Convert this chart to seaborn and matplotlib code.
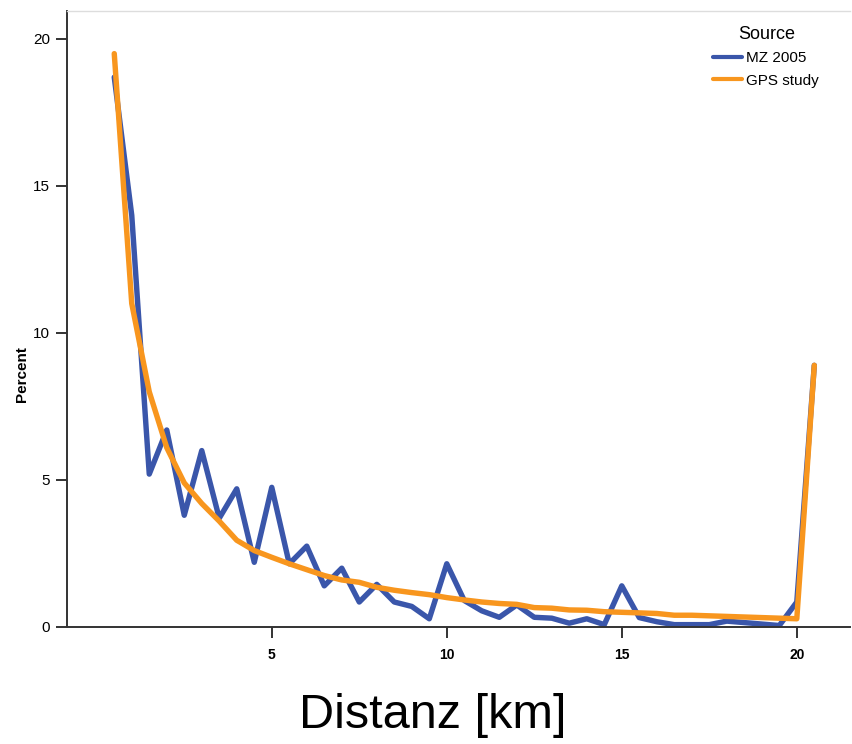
import numpy as np
import pandas as pd
import matplotlib
matplotlib.use("Agg")
import matplotlib.pyplot as plt
import seaborn as sns

sns.set_theme(style='ticks')
plt.rcParams['font.family'] = ['Liberation Sans', 'DejaVu Sans']
plt.rcParams['text.color'] = 'black'
plt.rcParams['axes.labelcolor'] = 'black'
plt.rcParams['xtick.labelcolor'] = 'black'
plt.rcParams['ytick.labelcolor'] = 'black'

# ---- data ----
distance_km = [0.5, 1.0, 1.5, 2.0, 2.5, 3.0, 3.5, 4.0, 4.5, 5.0,
               5.5, 6.0, 6.5, 7.0, 7.5, 8.0, 8.5, 9.0, 9.5, 10.0,
               10.5, 11.0, 11.5, 12.0, 12.5, 13.0, 13.5, 14.0, 14.5, 15.0,
               15.5, 16.0, 16.5, 17.0, 17.5, 18.0, 18.5, 19.0, 19.5, 20.0,
               20.5]

mz_2005 = [18.7, 14.0, 5.2, 6.7, 3.8, 6.0, 3.7, 4.7, 2.2, 4.75,
           2.15, 2.75, 1.4, 2.0, 0.85, 1.45, 0.85, 0.7, 0.28, 2.15,
           0.9, 0.55, 0.33, 0.75, 0.33, 0.3, 0.13, 0.28, 0.08, 1.4,
           0.32, 0.18, 0.08, 0.08, 0.08, 0.2, 0.15, 0.1, 0.05, 0.85,
           8.9]

gps_study = [19.5, 11.0, 8.0, 6.1, 4.9, 4.2, 3.6, 2.95, 2.6, 2.37,
             2.15, 1.95, 1.75, 1.6, 1.52, 1.35, 1.25, 1.17, 1.1, 1.0,
             0.92, 0.85, 0.8, 0.77, 0.66, 0.64, 0.58, 0.57, 0.52, 0.5,
             0.48, 0.46, 0.4, 0.4, 0.38, 0.36, 0.34, 0.32, 0.3, 0.28,
             8.9]

sources = ['MZ 2005', 'GPS study']
colors = ['#3a56aa', '#f8961e']

df = pd.DataFrame({
    'Distanz': distance_km * 2,
    'Percent': mz_2005 + gps_study,
    'Source': [sources[0]] * len(distance_km) + [sources[1]] * len(distance_km),
})

fig = plt.figure(figsize=(8.52, 7.44), dpi=100)
ax = fig.add_axes([67 / 852, 1 - 627 / 744, 783 / 852, 616 / 744])

sns.lineplot(data=df, x='Distanz', y='Percent', hue='Source',
             palette=dict(zip(sources, colors)), linewidth=3.9, ax=ax)

ax.set_xlim(-0.85, 21.52)
ax.set_ylim(0, 20.95)
ax.set_xticks([5, 10, 15, 20])
ax.set_yticks([0, 5, 10, 15, 20])

for side in ['left', 'bottom']:
    ax.spines[side].set_color('#333333')
    ax.spines[side].set_linewidth(1.4)
ax.spines['right'].set_visible(False)
ax.spines['top'].set_visible(True)
ax.spines['top'].set_color('#dddddd')
ax.spines['top'].set_linewidth(1.0)

ax.tick_params(axis='x', length=8, width=1.4, color='#333333', pad=7,
               labelsize=10)
ax.tick_params(axis='y', length=8, width=1.4, color='#333333', pad=4,
               labelsize=11)
for lab in ax.get_xticklabels():
    lab.set_fontweight('bold')

ax.set_ylabel('Percent', fontsize=11, fontweight='bold')
ax.yaxis.set_label_coords(-0.049, 0.41)
ax.set_xlabel('Distanz [km]', fontsize=35, va='center')
ax.xaxis.set_label_coords(0.467, -0.143)

leg = ax.legend(title='Source', loc='upper right', frameon=False,
                fontsize=11, title_fontsize=13, handlelength=1.9,
                handletextpad=0.25, labelspacing=0.55,
                bbox_to_anchor=(0.978, 0.998))
for line in leg.get_lines():
    line.set_linewidth(3.0)

fig.savefig('out.png', dpi=100)
